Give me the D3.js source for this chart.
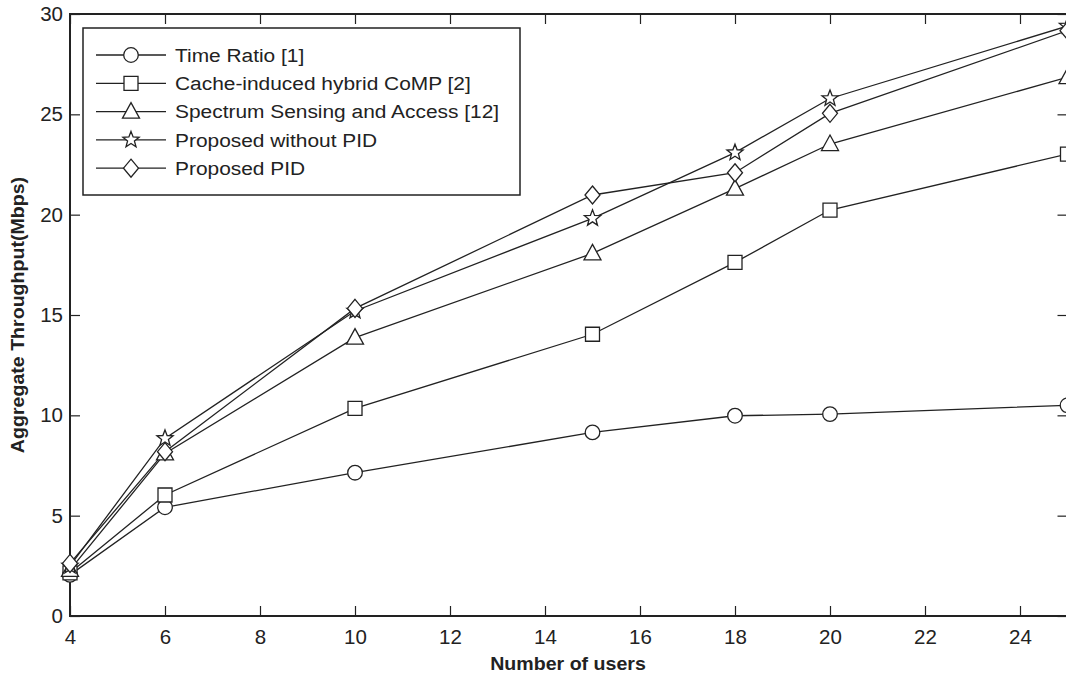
<!DOCTYPE html>
<html><head><meta charset="utf-8">
<script src="https://cdn.jsdelivr.net/npm/d3@7"></script>
<style>
html,body{margin:0;padding:0;background:#fff;}
svg{display:block;font-family:"Liberation Sans",Arial,sans-serif;}
</style></head>
<body>
<svg id="chart" width="1066" height="681"></svg>
<script>
const users = [4, 6, 10, 15, 18, 20, 25];
const seriesNames = ["Time Ratio [1]", "Cache-induced hybrid CoMP [2]", "Spectrum Sensing and Access [12]", "Proposed without PID", "Proposed PID"];
const seriesMarkers = ["circle", "square", "triangle", "star", "diamond"];
const timeRatio   = [2.05, 5.42, 7.14, 9.15, 9.98, 10.06, 10.5];
const cacheCoMP   = [2.15, 6.03, 10.35, 14.04, 17.62, 20.23, 23.02];
const spectrum    = [2.3, 8.1, 13.87, 18.07, 21.3, 23.52, 26.85];
const propNoPID   = [2.5, 8.85, 15.2, 19.82, 23.09, 25.79, 29.4];
const propPID     = [2.62, 8.19, 15.33, 20.98, 22.09, 25.05, 29.17];
const xTicks = [4, 6, 8, 10, 12, 14, 16, 18, 20, 22, 24];
const yTicks = [0, 5, 10, 15, 20, 25, 30];
const xLabel = "Number of users";
const yLabel = "Aggregate Throughput(Mbps)";

const allSeries = [timeRatio, cacheCoMP, spectrum, propNoPID, propPID];

const svg = d3.select("#chart");
const L = 70, T = 14, B = 616, R = 1067.5;
const x = d3.scaleLinear().domain([4, 25]).range([L, R]);
const y = d3.scaleLinear().domain([0, 30]).range([B, T]);

const tickLen = 10;
const g = svg.append("g");

const xAxis = d3.axisBottom(x).tickValues(xTicks).tickSizeInner(-tickLen).tickSizeOuter(0).tickPadding(13);
const yAxis = d3.axisLeft(y).tickValues(yTicks).tickSizeInner(-tickLen).tickSizeOuter(0).tickPadding(7);
const xTop = d3.axisTop(x).tickValues(xTicks).tickSizeInner(-tickLen).tickSizeOuter(0).tickFormat("");
const yRight = d3.axisRight(y).tickValues(yTicks).tickSizeInner(-tickLen).tickSizeOuter(0).tickFormat("");

function styleAxis(sel){
  sel.select(".domain").remove();
  sel.selectAll(".tick line").attr("stroke", "#222").attr("stroke-width", 1.2);
  sel.selectAll(".tick text").attr("fill", "#222").style("font-size", "20.5px").style("font-family", "'Liberation Sans', Arial, sans-serif");
}
g.append("g").attr("transform", `translate(0,${B})`).call(xAxis).call(styleAxis);
g.append("g").attr("transform", `translate(${L},0)`).call(yAxis).call(styleAxis);
g.append("g").attr("transform", `translate(0,${T})`).call(xTop).call(styleAxis);
g.append("g").attr("transform", `translate(${R},0)`).call(yRight).call(styleAxis);

g.append("rect").attr("x", L).attr("y", T).attr("width", R - L).attr("height", B - T)
  .attr("fill", "none").attr("stroke", "#222").attr("stroke-width", 2);

function markerPath(type){
  switch(type){
    case "circle": return d3.symbol().type(d3.symbolCircle).size(Math.PI * 7.3 * 7.3)();
    case "square": return "M-7,-7H7V7H-7Z";
    case "triangle": return "M0,-9L8.5,6.5H-8.5Z";
    case "diamond": return "M0,-9L7.5,0L0,9L-7.5,0Z";
    case "star": {
      const pts = [];
      for (let i = 0; i < 10; i++) {
        const r = i % 2 === 0 ? 8.5 : 3.6;
        const a = -Math.PI / 2 + i * Math.PI / 5;
        pts.push([r * Math.cos(a), r * Math.sin(a)]);
      }
      return "M" + pts.map(p => p[0].toFixed(2) + "," + p[1].toFixed(2)).join("L") + "Z";
    }
  }
}

const line = d3.line().x((d, i) => x(users[i])).y(d => y(d));
const plot = g.append("g");
allSeries.forEach((vals) => {
  plot.append("path").datum(vals).attr("d", line)
    .attr("fill", "none").attr("stroke", "#222").attr("stroke-width", 1.3);
});
allSeries.forEach((vals, si) => {
  plot.selectAll(null).data(vals).enter().append("path")
    .attr("transform", (d, i) => `translate(${x(users[i])},${y(d)})`)
    .attr("d", markerPath(seriesMarkers[si]))
    .attr("fill", "#fff").attr("stroke", "#222").attr("stroke-width", 1.3);
});

// legend
const lg = g.append("g");
lg.append("rect").attr("x", 83).attr("y", 28).attr("width", 437).attr("height", 167)
  .attr("fill", "#fff").attr("stroke", "#222").attr("stroke-width", 1.5);
seriesNames.forEach((name, i) => {
  const ly = 55 + i * 28.3;
  lg.append("line").attr("x1", 96).attr("x2", 166).attr("y1", ly).attr("y2", ly)
    .attr("stroke", "#222").attr("stroke-width", 1.3);
  lg.append("path").attr("transform", `translate(131,${ly})`).attr("d", markerPath(seriesMarkers[i]))
    .attr("fill", "#fff").attr("stroke", "#222").attr("stroke-width", 1.3);
  lg.append("text").attr("transform", `translate(175,${ly}) scale(1.1,1)`).attr("dy", "0.36em")
    .attr("fill", "#222").style("font-size", "19px").text(name);
});

// axis labels
g.append("text").attr("transform", "translate(568,670) scale(1.12,1)").attr("text-anchor", "middle")
  .style("font-weight", "bold").style("font-size", "17.5px").attr("fill", "#222").text(xLabel);
g.append("text").attr("transform", "translate(24,315) rotate(-90) scale(1.12,1)").attr("text-anchor", "middle")
  .style("font-weight", "bold").style("font-size", "17.5px").attr("fill", "#222").text(yLabel);
</script>
</body></html>
